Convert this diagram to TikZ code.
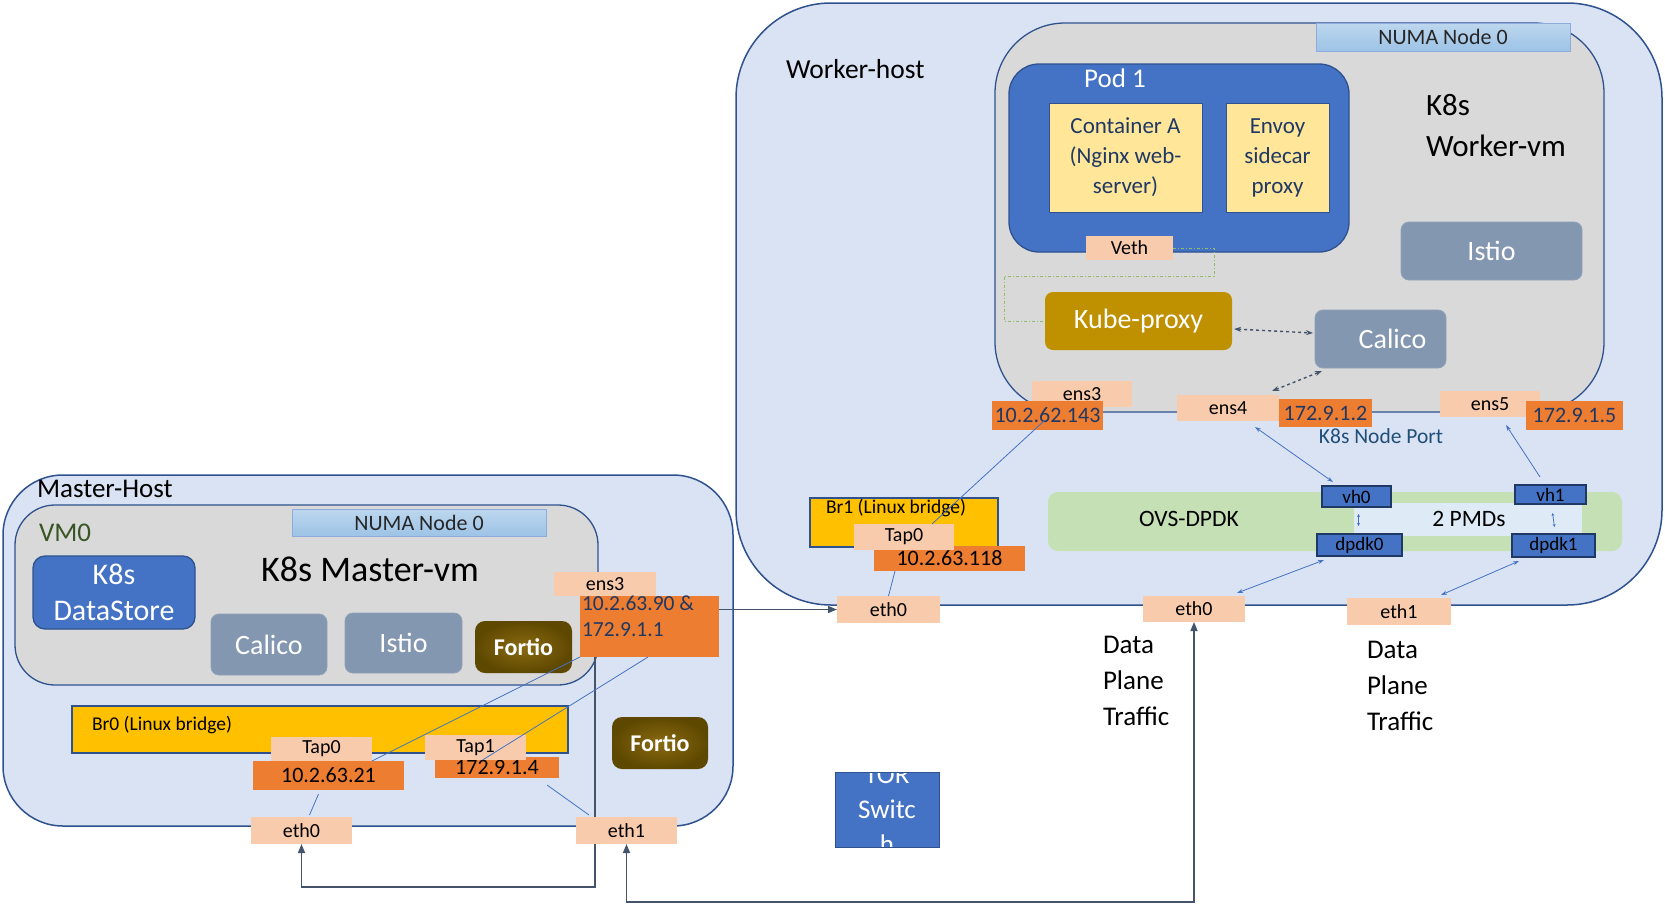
\documentclass[tikz,border=0pt]{standalone}
\usepackage{fontspec}
\setmainfont{Carlito}
\usetikzlibrary{arrows.meta,calc}
\pgfdeclarelayer{back}
\pgfdeclarelayer{lines}
\pgfsetlayers{back,lines,main}
\definecolor{hostfill}{HTML}{DAE3F3}
\definecolor{bord}{HTML}{2F528F}
\definecolor{vmfill}{HTML}{D9D9D9}
\definecolor{numatop}{HTML}{BDD7EE}
\definecolor{numabot}{HTML}{9DC3E6}
\definecolor{numadraw}{HTML}{8FAADC}
\definecolor{podblue}{HTML}{4472C4}
\definecolor{contyel}{HTML}{FFE699}
\definecolor{slate}{HTML}{8497B0}
\definecolor{kubegold}{HTML}{BF9000}
\definecolor{peach}{HTML}{F8CBAD}
\definecolor{orng}{HTML}{ED7D31}
\definecolor{ipblue}{HTML}{203864}
\definecolor{bryel}{HTML}{FFC000}
\definecolor{ovsgreen}{HTML}{C5E0B4}
\definecolor{pmdfill}{HTML}{DEEBF7}
\definecolor{darkblue}{HTML}{1F3864}
\definecolor{arrgray}{HTML}{44546A}
\definecolor{dashgreen}{HTML}{8FBC6A}
\definecolor{vmgreen}{HTML}{375623}
\definecolor{nodeport}{HTML}{1F4E79}
\definecolor{fortin}{HTML}{8A6A12}
\definecolor{fortout}{HTML}{5E4800}
\newcommand\fs[2]{\fontsize{#1}{#2}\selectfont}
\tikzset{
  every node/.style={inner sep=0pt, outer sep=0pt},
  hostbox/.style={draw=bord, line width=1.5pt, fill=hostfill},
  vmbox/.style={draw=bord, line width=1.3pt, fill=vmfill},
  numabox/.style={draw=numadraw, line width=1pt, top color=numatop, bottom color=numabot, font=\fs{22}{26}, text=black!85},
  podbox/.style={draw=bord, line width=1.3pt, fill=podblue, rounded corners=30},
  contbox/.style={draw=bord, line width=1pt, fill=contyel, align=center, font=\fs{23}{30}, text=darkblue},
  slatebox/.style={fill=slate, draw=slate!90!white, line width=0.8pt, rounded corners=8, text=white, font=\fs{28}{32}},
  kubebox/.style={fill=kubegold, rounded corners=8, text=white, font=\fs{28}{32}},
  peachbox/.style={fill=peach, font=\fs{20}{24}, text=black},
  ipbox/.style={fill=orng, font=\fs{22}{26}, text=ipblue},
  ipboxk/.style={fill=orng, font=\fs{22}{26}, text=black},
  brbox/.style={fill=bryel, draw=bord, line width=1.3pt},
  ovsbox/.style={fill=ovsgreen, rounded corners=10},
  pmdbox/.style={fill=pmdfill},
  vhbox/.style={fill=podblue, draw=darkblue, line width=1.3pt, font=\fs{19}{22}, text=black},
  fortiobox/.style={shading=radial, inner color=fortin, outer color=fortout, rounded corners=10, text=white, font=\fs{24}{28}\bfseries},
  dsbox/.style={fill=podblue, draw=bord, line width=1.3pt, rounded corners=12, text=white, align=center, font=\fs{30}{36}},
  torbox/.style={fill=podblue, draw=bord, line width=1pt},
  thinblue/.style={draw=podblue, line width=0.8pt},
  thinarrow/.style={draw=podblue, line width=0.8pt, arrows={Stealth[length=6pt,width=4pt]-Stealth[length=6pt,width=4pt]}},
  bigline/.style={draw=arrgray, line width=1.4pt},
  bigtip/.style={-{Triangle[length=9pt,width=7pt]}},
  dashedarrow/.style={draw=arrgray, line width=1.4pt, dashed, arrows={Stealth[length=7pt,width=5pt]-Stealth[length=7pt,width=5pt]}},
  greendash/.style={draw=dashgreen, line width=1pt, dash dot},
}
\begin{document}
\begin{tikzpicture}[x=1pt,y=-1pt]
\useasboundingbox (0,0) rectangle (1665,905);

\begin{pgfonlayer}{back}
\fill[white] (0,0) rectangle (1665,905);
% ---------------- Worker host ----------------
\node[hostbox, minimum width=926, minimum height=602, rounded corners=95] (whost) at (1199,304) {};
\node[vmbox, minimum width=609, minimum height=389, rounded corners=70] (wvm) at (1299.5,217.5) {};
\node[numabox, minimum width=254, minimum height=28] (wnuma) at (1443,37) {NUMA Node 0};
\node[podbox, minimum width=340, minimum height=188] (pod) at (1179,158) {};
\node[contbox, minimum width=153, minimum height=109] (conta) at (1125.5,157.5) {Container A\\(Nginx web-\\server)};
\node[contbox, minimum width=103, minimum height=109] (envoy) at (1277.5,157.5) {Envoy\\sidecar\\proxy};
\node[slatebox, minimum width=181, minimum height=58] (istiow) at (1491.5,251) {Istio};
\node[kubebox, minimum width=187, minimum height=58] (kube) at (1138.5,321) {Kube-proxy};
\node[slatebox, minimum width=131, minimum height=58] (calicow) at (1380.5,339) {\hspace*{24pt}Calico};
\node[brbox, minimum width=188, minimum height=49] (br1) at (904,522.5) {};
\node[ovsbox, minimum width=574, minimum height=59] (ovs) at (1335,521.5) {};
\node[pmdbox, minimum width=228, minimum height=33] (pmd) at (1468,519.5) {};
% ---------------- Master host ----------------
\node[hostbox, minimum width=730, minimum height=351, rounded corners=60] (mhost) at (368,650.5) {};
\node[vmbox, minimum width=583, minimum height=180, rounded corners=40] (vm0) at (306.5,595) {};
\node[numabox, minimum width=254, minimum height=27] (mnuma) at (419,522.5) {NUMA Node 0};
\node[dsbox, minimum width=162, minimum height=73] (ds) at (114,592.5) {K8s\\DataStore};
\node[slatebox, minimum width=116, minimum height=61] (calicom) at (269,644.5) {Calico};
\node[slatebox, minimum width=117, minimum height=60] (istiom) at (403.5,643) {Istio};
\node[fortiobox, minimum width=97, minimum height=52] (fortio1) at (523.5,647) {Fortio};
\node[brbox, minimum width=496, minimum height=47] (br0) at (320,729.5) {};
\node[fortiobox, minimum width=96, minimum height=52] (fortio2) at (660,743) {Fortio};
% ---------------- ToR ----------------
\node[torbox, minimum width=104, minimum height=75,
  path picture={\node[text=white, align=center, font=\fs{27}{35}] at (path picture bounding box.center) {TOR\\Switc\\h};}] (tor) at (887,809.5) {};
\end{pgfonlayer}

% ---------------- labels ----------------
\node[anchor=west, font=\fs{27.5}{31}] (whostlbl) at (786,69) {Worker-host};
\node[text=white, font=\fs{27}{31}] (podlbl) at (1115,78) {Pod 1};
\node[anchor=north west, align=left, font=\fs{31}{41}] (wvmlbl) at (1426,94) {K8s\\Worker-vm};
\node[font=\fs{23.5}{28}] (ovslbl) at (1189,519) {OVS-DPDK};
\node[font=\fs{23.5}{28}] (pmdlbl) at (1469,519) {2 PMDs};
\node[anchor=west, font=\fs{19.5}{22}] (br1lbl) at (826,508) {Br1 (Linux bridge)};
\node[font=\fs{21.5}{26}, text=nodeport] (nplbl) at (1381,436) {K8s Node Port};
\node[anchor=west, font=\fs{27}{30}] (mhostlbl) at (37,489) {Master-Host};
\node[anchor=west, font=\fs{27}{31}, text=vmgreen] (vm0lbl) at (39,533) {VM0};
\node[font=\fs{36}{40}] (mvmlbl) at (370,569) {K8s Master-vm};
\node[anchor=west, font=\fs{19.5}{22}] (br0lbl) at (92,725) {Br0 (Linux bridge)};
\node[anchor=north west, align=left, font=\fs{27}{36}] (dpt1) at (1103,636) {Data\\Plane\\Traffic};
\node[anchor=north west, align=left, font=\fs{27}{36}] (dpt2) at (1367,641) {Data\\Plane\\Traffic};

% ---------------- worker interface boxes ----------------
\node[peachbox, minimum width=87, minimum height=24] (veth) at (1129.5,248) {Veth};
\node[peachbox, minimum width=100, minimum height=26] (ens3w) at (1082,394) {ens3};
\node[ipbox, minimum width=111, minimum height=29] (ip62) at (1047.5,415.5) {10.2.62.143};
\node[peachbox, minimum width=102, minimum height=26] (ens4) at (1228,408) {ens4};
\node[ipbox, minimum width=93, minimum height=28] (ip12) at (1325.5,413) {172.9.1.2};
\node[peachbox, minimum width=100, minimum height=26] (ens5) at (1490,404) {ens5};
\node[ipbox, minimum width=97, minimum height=29] (ip15) at (1574.5,415.5) {172.9.1.5};
\node[ipboxk, minimum width=151, minimum height=25] (ip118) at (949.5,558.5) {10.2.63.118};
\node[peachbox, minimum width=100, minimum height=26] (tap0w) at (904,537) {Tap0};
\node[peachbox, minimum width=103, minimum height=27] (eth0wl) at (888.5,609.5) {eth0};
\node[peachbox, minimum width=102, minimum height=26] (eth0wm) at (1194,609) {eth0};
\node[peachbox, minimum width=104, minimum height=27] (eth1w) at (1399,611.5) {eth1};
\node[vhbox, minimum width=69, minimum height=21] (vh0) at (1356.5,496.5) {vh0};
\node[vhbox, minimum width=71, minimum height=19] (vh1) at (1550.5,494.5) {vh1};
\node[vhbox, minimum width=85, minimum height=22] (dpdk0) at (1359.5,545) {dpdk0};
\node[vhbox, minimum width=83, minimum height=23] (dpdk1) at (1553.5,545.5) {dpdk1};

% ---------------- master interface boxes ----------------
\node[peachbox, minimum width=102, minimum height=24] (ens3m) at (605,584) {ens3};
\node[fill=orng, minimum width=139, minimum height=61] (ipm) at (649.5,626.5) {};
\node[anchor=north west, align=left, font=\fs{21.5}{26}, text=ipblue] (ipmtxt) at (582,596) {10.2.63.90 \&\\172.9.1.1};
\node[ipboxk, minimum width=151, minimum height=29] (ip21) at (328.5,775.5) {10.2.63.21};
\node[peachbox, minimum width=101, minimum height=24] (tap0m) at (321.5,749) {Tap0};
\node[ipboxk, minimum width=124, minimum height=21] (ip4) at (497,767.5) {172.9.1.4};
\node[peachbox, minimum width=101, minimum height=25] (tap1m) at (475.5,747.5) {Tap1};
\node[peachbox, minimum width=101, minimum height=27] (eth0m) at (301.5,830.5) {eth0};
\node[peachbox, minimum width=101, minimum height=27] (eth1m) at (626.5,830.5) {eth1};

% ---------------- connectors ----------------
\begin{pgfonlayer}{lines}
\coordinate (mvtop) at ($(ipm.south west)+(15,0)$);
\draw[bigline, bigtip] (mvtop) -- (mvtop |- 0,887) -- (eth0m.south |- 0,887) -- (eth0m.south);
\end{pgfonlayer}

\draw[bigline, bigtip] (eth0wl.west -| ipm.east) -- (eth0wl.west);
\draw[bigline, {Triangle[length=9pt,width=7pt]}-{Triangle[length=9pt,width=7pt]}] (eth1m.south) -- (eth1m.south |- 0,902) -- (eth0wm.south |- 0,902) -- (eth0wm.south);

\draw[greendash] (veth.east) -- (1214,248) -- (1214,276) -- (1004,276) -- (1004,321) -- (kube.west);
\draw[dashedarrow] ($(kube.east)+(2,8)$) -- ($(calicow.west)+(-2,-6)$);
\draw[dashedarrow] ($(ens4.north east)+(-7,-4)$) -- ($(calicow.south west)+(7,3)$);

\draw[thinblue] ($(ip62.center)+(-3,5)$) -- ($(tap0w.north)+(28,0)$);
\draw[thinblue] ($(ip118.south west)+(21,0)$) -- ($(eth0wl.north)+(0,0)$);
\draw[thinarrow] ($(ens4.south)+(27,6)$) -- ($(vh0.north west)+(11,-4)$);
\draw[thinblue, arrows={Stealth[length=6pt,width=4pt]-}] ($(ens5.south)+(16,8)$) -- ($(vh1.north west)+(25,-8)$);
\draw[thinarrow] ($(dpdk0.south west)+(7,4)$) -- ($(eth0wm.north east)+(-8,-3)$);
\draw[thinarrow] ($(dpdk1.south west)+(7,4)$) -- ($(eth1w.north east)+(-10,-3)$);
\draw[thinblue, arrows={Stealth[length=3pt,width=3pt]-Stealth[length=3pt,width=3pt]}] ($(vh0.south)+(2,7)$) -- ($(dpdk0.north)+(-1,-8)$);
\draw[thinblue, arrows={Stealth[length=3pt,width=3pt]-Stealth[length=3pt,width=3pt]}] ($(vh1.south)+(2,9)$) -- ($(dpdk1.north)+(1,-7)$);

\draw[thinblue] (ipm.south west) -- (tap0m.south east);
\draw[thinblue] ($(ipm.south west)+(68,0)$) -- ($(tap1m.south)+(7,0)$);
\draw[thinblue] ($(ip21.south)+(-10,4)$) -- ($(eth0m.north)+(8,-2)$);
\draw[thinblue] ($(ip4.south east)+(-12,7)$) -- ($(eth1m.north west)+(13,-2)$);
\end{tikzpicture}
\end{document}
